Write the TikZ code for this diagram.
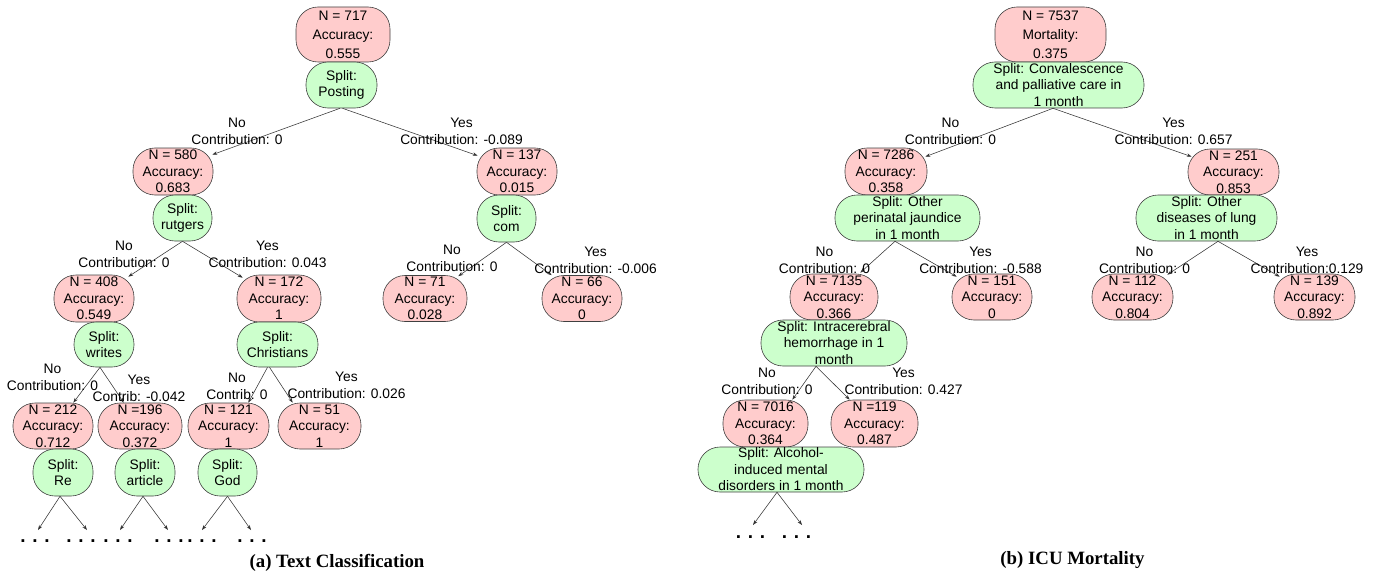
\documentclass[tikz,border=0pt]{standalone}
\usepackage{fontspec}
\usetikzlibrary{arrows.meta,calc}
\newfontfamily\sansf{Liberation Sans}
\newfontfamily\capserif{Liberation Serif}
\newcommand\boxfont{\sansf\fontsize{13.8}{16.5}\selectfont}
\newcommand\rootfont{\sansf\fontsize{13.8}{19}\selectfont}
\newcommand\lblfont{\sansf\fontsize{13.8}{17}\selectfont}
\newcommand\dotsfont{\sansf\bfseries\fontsize{19}{19}\selectfont}
\newcommand\capfont{\capserif\bfseries\fontsize{18.8}{20}\selectfont}
\newcommand\tdots{.\hspace{6.7pt}.\hspace{6.7pt}.}
\definecolor{redfill}{HTML}{FFCCCC}
\definecolor{greenfill}{HTML}{CCFFCC}
\tikzset{
  redbox/.style={draw=black!75, line width=0.6pt, fill=redfill, rounded corners=22pt,
    minimum height=47pt, inner sep=0pt, align=center, font=\boxfont},
  greenbox/.style={draw=black!75, line width=0.6pt, fill=greenfill, rounded corners=22pt,
    minimum height=46pt, inner sep=0pt, align=center, font=\boxfont},
  rootbox/.style={redbox, minimum height=55pt, font=\rootfont},
  lbl/.style={align=center, inner sep=0pt, font=\lblfont},
  edgearrow/.style={draw=black!80, line width=0.55pt, -{Stealth[length=5pt,width=3.5pt]}},
  dotsnode/.style={inner sep=0pt, anchor=base, font=\dotsfont},
  capnode/.style={inner sep=0pt, anchor=base, font=\capfont}
}
\begin{document}
\begin{tikzpicture}[x=1pt,y=-1pt]
\useasboundingbox (0,0) rectangle (1380,575);

% ---------------- Left tree (a) ----------------
\node[rootbox, minimum width=94pt] (a0) at (343,34.5) {N = 717\\Accuracy:\\0.555};
\node[redbox, minimum width=80pt] (a580) at (173,171.5) {N = 580\\Accuracy:\\0.683};
\node[redbox, minimum width=80pt] (a137) at (517,171.5) {N = 137\\Accuracy:\\0.015};
\node[redbox, minimum width=80pt] (a408) at (94,298.5) {N = 408\\Accuracy:\\0.549};
\node[redbox, minimum width=84pt] (a172) at (279,298.5) {N = 172\\Accuracy:\\1};
\node[redbox, minimum width=84pt, minimum height=46pt] (a71) at (425,298.5) {N = 71\\Accuracy:\\0.028};
\node[redbox, minimum width=80pt, minimum height=46pt] (a66) at (582,298.5) {N = 66\\Accuracy:\\0};
\node[redbox, minimum width=80pt, minimum height=46pt] (a212) at (53,426) {N = 212\\Accuracy:\\0.712};
\node[redbox, minimum width=84pt, minimum height=46pt] (a196) at (140,426) {N =196\\Accuracy:\\0.372};
\node[redbox, minimum width=81pt, minimum height=46pt] (a121) at (228.5,426) {N = 121\\Accuracy:\\1};
\node[redbox, minimum width=83pt, minimum height=46pt] (a51) at (319.5,426) {N = 51\\Accuracy:\\1};

\node[greenbox, minimum width=71pt] (s0) at (341.5,85) {Split:\\Posting};
\node[greenbox, minimum width=59pt] (s580) at (182.5,218) {Split:\\rutgers};
\node[greenbox, minimum width=59pt, minimum height=47pt] (s137) at (506.5,218.5) {Split:\\com};
\node[greenbox, minimum width=60pt, minimum height=45pt] (s408) at (104,344.5) {Split:\\writes};
\node[greenbox, minimum width=81pt, minimum height=45pt] (s172) at (277.5,344.5) {Split:\\Christians};
\node[greenbox, minimum width=60pt, minimum height=47pt] (sRe) at (63,472.5) {Split:\\Re};
\node[greenbox, minimum width=60pt, minimum height=47pt] (sArt) at (145,472.5) {Split:\\article};
\node[greenbox, minimum width=59pt, minimum height=47pt] (sGod) at (227.5,472.5) {Split:\\God};

\draw[edgearrow] ($(s0.south)+(-1.5,0)$) -- ($(a580.north east)+(-1,7)$);
\draw[edgearrow] ($(s0.south)+(1,0)$) -- ($(a137.north west)+(1,8)$);
\draw[edgearrow] (s580.south) -- ($(a408.north east)+(-6,2)$);
\draw[edgearrow] (s580.south) -- ($(a172.north west)+(6,3)$);
\draw[edgearrow] (s137.south) -- ($(a71.north east)+(-9,1)$);
\draw[edgearrow] (s137.south) -- ($(a66.north west)+(10,0)$);
\draw[edgearrow] ($(s408.south)+(-4,0)$) -- ($(a212.north east)+(-20,0)$);
\draw[edgearrow] ($(s408.south)+(-4,0)$) -- ($(a196.north west)+(26,0)$);
\draw[edgearrow] ($(s172.south)+(-10,0)$) -- ($(a121.north east)+(-21,0)$);
\draw[edgearrow] ($(s172.south)+(-8,0)$) -- ($(a51.north west)+(15,0)$);

\coordinate (t1) at (38,530);
\coordinate (t2) at (87,530);
\coordinate (t3) at (120,530);
\coordinate (t4) at (168,530);
\coordinate (t5) at (202,530);
\coordinate (t6) at (251,530);
\draw[edgearrow] ($(sRe.south)+(-3,0)$) -- (t1);
\draw[edgearrow] ($(sRe.south)+(-3,0)$) -- (t2);
\draw[edgearrow] ($(sArt.south)+(-2,0)$) -- (t3);
\draw[edgearrow] ($(sArt.south)+(-2,0)$) -- (t4);
\draw[edgearrow] (sGod.south) -- (t5);
\draw[edgearrow] (sGod.south) -- (t6);

\node[dotsnode] (d1) at (35,542) {\tdots};
\node[dotsnode] (d2) at (81,542) {\tdots};
\node[dotsnode] (d3) at (118,542) {\tdots};
\node[dotsnode] (d4) at (169,542) {\tdots};
\node[dotsnode] (d5) at (202,542) {\tdots};
\node[dotsnode] (d6) at (252,542) {\tdots};

\node[lbl] (l1) at (237,131.5) {No\\Contribution: 0};
\node[lbl] (l2) at (461.5,131.5) {Yes\\Contribution: -0.089};
\node[lbl] (l3) at (124,254.5) {No\\Contribution: 0};
\node[lbl] (l4) at (267.5,254.5) {Yes\\Contribution: 0.043};
\node[lbl] (l5) at (452,258.5) {No\\Contribution: 0};
\node[lbl] (l6) at (595.5,260.5) {Yes\\Contribution: -0.006};
\node[lbl] (l7) at (52.5,377.5) {No\\Contribution: 0};
\node[lbl] (l8) at (139,388.5) {Yes\\Contrib: -0.042};
\node[lbl] (l9) at (237,386.5) {No\\Contrib: 0};
\node[lbl] (l10) at (346.5,385) {Yes\\Contribution: 0.026};

\node[capnode] (capa) at (337,567) {(a) Text Classification};

% ---------------- Right tree (b) ----------------
\node[rootbox, minimum width=111pt] (b0) at (1050.5,34.5) {N = 7537\\Mortality:\\0.375};
\node[redbox, minimum width=82pt] (b7286) at (886,171.5) {N = 7286\\Accuracy:\\0.358};
\node[redbox, minimum width=91pt, minimum height=46pt] (b251) at (1233.5,172) {N = 251\\Accuracy:\\0.853};
\node[redbox, minimum width=88pt, minimum height=46pt] (b7135) at (834,297) {N = 7135\\Accuracy:\\0.366};
\node[redbox, minimum width=80pt, minimum height=46pt] (b151) at (992,297) {N = 151\\Accuracy:\\0};
\node[redbox, minimum width=81pt, minimum height=46pt] (b112) at (1132.5,297) {N = 112\\Accuracy:\\0.804};
\node[redbox, minimum width=81pt, minimum height=46pt] (b139) at (1314.5,297) {N = 139\\Accuracy:\\0.892};
\node[redbox, minimum width=85pt] (b7016) at (765.5,423.5) {N = 7016\\Accuracy:\\0.364};
\node[redbox, minimum width=87pt] (b119) at (874.5,423.5) {N =119\\Accuracy:\\0.487};

\node[greenbox, minimum width=171pt] (r0) at (1058.5,85) {Split: Convalescence\\and palliative care in\\1 month};
\node[greenbox, minimum width=145pt] (r7286) at (907.5,218) {Split: Other\\perinatal jaundice\\in 1 month};
\node[greenbox, minimum width=141pt] (r251) at (1206.5,218) {Split: Other\\diseases of lung\\in 1 month};
\node[greenbox, minimum width=146pt] (r7135) at (834,343) {Split: Intracerebral\\hemorrhage in 1\\month};
\node[greenbox, minimum width=166pt, minimum height=45pt] (r7016) at (781,469.5) {Split: Alcohol-\\induced mental\\disorders in 1 month};

\draw[edgearrow] ($(r0.south)+(-5.5,0)$) -- ($(b7286.north east)+(-2,9)$);
\draw[edgearrow] ($(r0.south)+(-5.5,0)$) -- ($(b251.north west)+(4,8)$);
\draw[edgearrow] ($(r7286.south)+(-12.5,0)$) -- ($(b7135.north east)+(-18,-1)$);
\draw[edgearrow] ($(r7286.south)+(-12.5,0)$) -- ($(b151.north west)+(5,3)$);
\draw[edgearrow] ($(r251.south)+(11.5,0)$) -- ($(b112.north east)+(-6,1)$);
\draw[edgearrow] ($(r251.south)+(11.5,0)$) -- ($(b139.north west)+(6,3)$);
\draw[edgearrow] ($(r7135.south)+(-18,0)$) -- ($(b7016.north east)+(-16,0)$);
\draw[edgearrow] ($(r7135.south)+(-18,0)$) -- ($(b119.north west)+(19,0)$);

\coordinate (u1) at (753,525);
\coordinate (u2) at (802,525);
\draw[edgearrow] ($(r7016.south)+(-4,0)$) -- (u1);
\draw[edgearrow] ($(r7016.south)+(-4,0)$) -- (u2);
\node[dotsnode] (e1) at (750.5,538) {\tdots};
\node[dotsnode] (e2) at (796.5,538) {\tdots};

\node[lbl] (m1) at (950.5,131.5) {No\\Contribution: 0};
\node[lbl] (m2) at (1173.5,131.5) {Yes\\Contribution: 0.657};
\node[lbl] (m3) at (824.5,260.5) {No\\Contribution: 0};
\node[lbl] (m4) at (980.5,260.5) {Yes\\Contribution: -0.588};
\node[lbl] (m5) at (1144.5,260.5) {No\\Contribution: 0};
\node[lbl] (m6) at (1307,260.5) {Yes\\Contribution:0.129};
\node[lbl] (m7) at (767,381.5) {No\\Contribution: 0};
\node[lbl] (m8) at (903.5,381.5) {Yes\\Contribution: 0.427};

\node[capnode] (capb) at (1072.5,564) {(b) ICU Mortality};
\end{tikzpicture}
\end{document}
